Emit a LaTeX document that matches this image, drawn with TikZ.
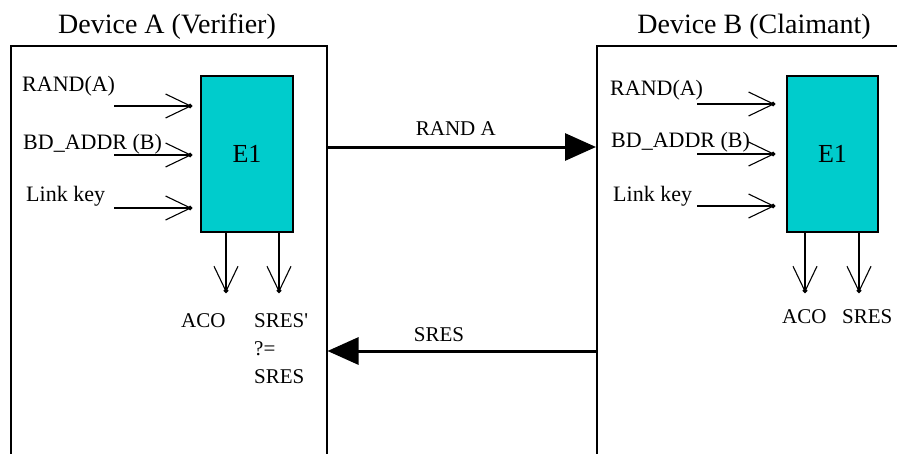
\documentclass[tikz,border=0pt]{standalone}
\usepackage{fontspec}
\setmainfont{Liberation Serif}
\usetikzlibrary{arrows.meta, positioning}
\definecolor{ciphercyan}{RGB}{0,204,204}

\begin{document}
\begin{tikzpicture}[
  x=1pt, y=-1pt,
  device/.style={rectangle, draw, line width=1.5pt, anchor=north west, inner sep=0pt},
  cipher/.style={rectangle, draw, line width=1.4pt, fill=ciphercyan,
              minimum width=92pt, minimum height=156pt, font=\fontsize{26}{30}\selectfont},
  title/.style={font=\fontsize{28}{32}\selectfont, anchor=base, inner sep=0pt},
  lbl/.style={font=\fontsize{22}{28}\selectfont, anchor=base west, inner sep=0pt},
  outlbl/.style={font=\fontsize{21}{28}\selectfont, anchor=base west, inner sep=0pt, align=left},
  inarr/.style={-{Straight Barb[length=25pt,width=24pt,line width=1.1pt,sep=-4pt]Circle[length=4.5pt]},
              line width=1.3pt},
  msg/.style={-{Triangle[length=31pt,width=27pt]}, line width=3pt}
]
\useasboundingbox (0,0) rectangle (897,453);

% the two devices
\node[device, minimum width=316pt, minimum height=440pt] (devA) at (10,45) {};
\node[device, minimum width=340pt, minimum height=440pt] (devB) at (596,45) {};
\node[title] (titleA) at (167,33) {Device A (Verifier)};
\node[title] (titleB) at (754,33) {Device B (Claimant)};

% E1 blocks
\node[cipher] (e1A) at (247,154) {E1};
\node[cipher, minimum width=91pt] (e1B) at (832.5,154) {E1};

% inputs of device A
\node[lbl] (randA) at (22,91) {RAND(A)};
\node[lbl] (addrA) at (23,149) {BD\_ADDR (B)};
\node[lbl] (keyA) at (26,201) {Link key};
\coordinate (inA1) at (114,106);
\coordinate (inA2) at (114,155);
\coordinate (inA3) at (114,208);
\draw[inarr, shorten >=8pt] (inA1) -- (inA1 -| e1A.west);
\draw[inarr, shorten >=8pt] (inA2) -- (inA2 -| e1A.west);
\draw[inarr, shorten >=8pt] (inA3) -- (inA3 -| e1A.west);

% inputs of device B
\node[lbl] (randB) at (610,95) {RAND(A)};
\node[lbl] (addrB) at (611,147) {BD\_ADDR (B)};
\node[lbl] (keyB) at (613,201) {Link key};
\coordinate (inB1) at (697,104);
\coordinate (inB2) at (697,154);
\coordinate (inB3) at (697,206);
\draw[inarr, shorten >=11pt] (inB1) -- (inB1 -| e1B.west);
\draw[inarr, shorten >=11pt] (inB2) -- (inB2 -| e1B.west);
\draw[inarr, shorten >=11pt] (inB3) -- (inB3 -| e1B.west);

% outputs of device A
\coordinate (outA1) at (226,293);
\coordinate (outA2) at (279,293);
\draw[inarr] (outA1 |- e1A.south) -- (outA1);
\draw[inarr] (outA2 |- e1A.south) -- (outA2);
\node[outlbl] (acoA) at (181,327) {ACO};
\node[outlbl] (sresA) at (254,383) {SRES\textquotesingle\\?=\\SRES};

% outputs of device B
\coordinate (outB1) at (805,293);
\coordinate (outB2) at (859,293);
\draw[inarr] (outB1 |- e1B.south) -- (outB1);
\draw[inarr] (outB2 |- e1B.south) -- (outB2);
\node[outlbl] (acoB) at (782,323) {ACO};
\node[outlbl] (sresB) at (842,323) {SRES};

% messages between the devices
\coordinate (randY) at (0,147);
\coordinate (sresY) at (0,351);
\draw[msg] (devA.east |- randY) -- node[pos=0.478, above=8pt, inner sep=2pt, font=\fontsize{21}{26}\selectfont] (randMsg) {RAND A} (devB.west |- randY);
\draw[msg] (devB.west |- sresY) -- node[pos=0.585, above=6pt, inner sep=2pt, font=\fontsize{21}{26}\selectfont] (sresMsg) {SRES} (devA.east |- sresY);
\end{tikzpicture}
\end{document}
